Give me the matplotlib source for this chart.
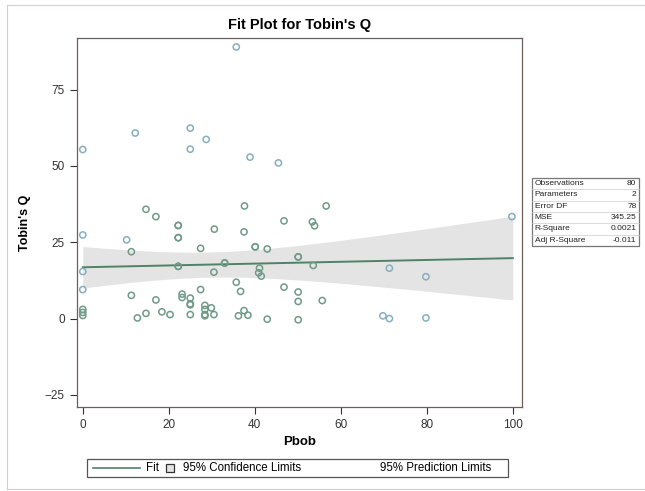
import numpy as np
import matplotlib
matplotlib.use('Agg')
import matplotlib.pyplot as plt
from matplotlib.patches import Rectangle
from matplotlib.lines import Line2D

plt.rcParams['font.family'] = ['Liberation Sans', 'DejaVu Sans']

# observations (green-grey markers)
pbob_a = [0, 0, 0, 11.3, 11.3, 14.7, 17.0, 17.0, 12.7, 14.7, 18.4, 20.3,
          22.2, 22.2, 22.2, 22.2, 22.2, 22.2, 23.1, 23.1, 25.0, 25.0, 25.0, 25.0,
          27.4, 27.4, 28.4, 28.4, 28.4, 28.4, 29.9, 30.5, 30.6, 30.5, 33.0, 33.0,
          35.7, 36.7, 36.2, 37.5, 38.4, 37.6, 37.5, 40.1, 40.1, 42.9, 41.1, 40.9,
          41.5, 42.9, 46.8, 46.8, 50.1, 50.1, 50.1, 50.1, 50.1, 53.4, 53.9, 53.6,
          55.7, 56.6]
q_a = [1.0, 2.0, 3.0, 21.9, 7.6, 35.8, 33.4, 6.1, 0.2, 1.7, 2.2, 1.3,
       30.5, 30.5, 26.5, 26.5, 17.1, 17.1, 8.0, 6.9, 6.7, 4.8, 4.5, 1.3,
       23.0, 9.5, 4.3, 3.0, 1.3, 0.9, 3.5, 1.3, 29.3, 15.2, 18.2, 18.2,
       11.9, 8.9, 0.9, 2.6, 1.1, 36.9, 28.4, 23.5, 23.5, 22.8, 16.5, 15.0,
       13.9, -0.2, 32.0, 10.3, 20.2, 20.2, 8.7, 5.6, -0.4, 31.7, 30.4, 17.4,
       5.9, 36.9]

# observations drawn in the lighter blue tone
pbob_b = [0, 12.2, 25.0, 25.0, 28.7, 35.7, 38.9, 45.5, 0, 10.2, 0, 0,
          69.8, 71.3, 71.3, 79.8, 79.8, 99.8]
q_b = [55.4, 60.8, 62.4, 55.5, 58.7, 89.0, 52.9, 51.0, 27.4, 25.8, 15.4, 9.5,
       0.9, 0.0, 16.5, 13.7, 0.2, 33.4]

# fitted line, MSE from the stats table
fit_intercept = 16.8
fit_slope = 0.03
fit_mse = 345.25
fit_xmean = 29.2
fit_sxx = 40000.0
n_obs = 80
t_crit = 1.9908

stat_labels = ['Observations', 'Parameters', 'Error DF', 'MSE', 'R-Square', 'Adj R-Square']
stat_values = ['80', '2', '78', '345.25', '0.0021', '-0.011']

xs = np.linspace(0, 100, 200)
fit = fit_intercept + fit_slope * xs
half = t_crit * np.sqrt(fit_mse * (1 / n_obs + (xs - fit_xmean) ** 2 / fit_sxx))

fig = plt.figure(figsize=(6.45, 4.91), dpi=100)
ax = fig.add_axes([0.119, 0.171, 0.690, 0.752])

ax.fill_between(xs, fit - half, fit + half, color='#e4e4e4', lw=0, zorder=1)
ax.plot(xs, fit, color='#4f8268', lw=1.4, zorder=3)
ax.scatter(pbob_a, q_a, s=20, facecolors='none', edgecolors='#6f9a86', linewidths=1.1, zorder=4)
ax.scatter(pbob_b, q_b, s=20, facecolors='none', edgecolors='#86aec0', linewidths=1.1, zorder=4)

ax.set_xlim(-1.4, 102.1)
ax.set_ylim(-29, 92)
ax.set_xticks([0, 20, 40, 60, 80, 100])
ax.set_yticks([-25, 0, 25, 50, 75])
ax.tick_params(labelsize=8.5, colors='#333333', length=5, width=0.8)
for s in ax.spines.values():
    s.set_color('#6e5e5a')
    s.set_linewidth(0.9)

ax.set_title("Fit Plot for Tobin's Q", fontsize=10.5, fontweight='bold', pad=6)
ax.set_xlabel('Pbob', fontsize=9.5, fontweight='bold', labelpad=4)
ax.set_ylabel("Tobin's Q", fontsize=9, fontweight='bold', labelpad=10)

# statistics box on the right
bx0, bx1 = 532 / 645, 639 / 645
by_top, by_bot = 1 - 178 / 491, 1 - 246 / 491
fig.patches.append(Rectangle((bx0, by_bot), bx1 - bx0, by_top - by_bot, transform=fig.transFigure,
                             fill=False, ec='#777777', lw=0.9))
row_h = (by_top - by_bot) / len(stat_labels)
for i, (lab, val) in enumerate(zip(stat_labels, stat_values)):
    yc = by_top - (i + 0.5) * row_h
    fig.text(bx0 + 0.004, yc, lab, fontsize=6.0, va='center', ha='left', color='#222222')
    fig.text(bx1 - 0.004, yc, val, fontsize=6.0, va='center', ha='right', color='#222222')
    if i > 0:
        fig.add_artist(Line2D([bx0, bx1], [yc + row_h / 2] * 2, transform=fig.transFigure,
                              color='#cccccc', lw=0.5))

# legend strip at the bottom
lx0, lx1 = 87 / 645, 508 / 645
ly0, ly1 = 1 - 477 / 491, 1 - 459 / 491
ly = (ly0 + ly1) / 2
fig.patches.append(Rectangle((lx0, ly0), lx1 - lx0, ly1 - ly0, transform=fig.transFigure,
                             fill=False, ec='#555555', lw=0.9))
fig.add_artist(Line2D([93 / 645, 140 / 645], [ly, ly], transform=fig.transFigure,
                      color='#4f8268', lw=1.2))
fig.text(146 / 645, ly, 'Fit', fontsize=8.3, va='center', ha='left')
fig.patches.append(Rectangle((166 / 645, ly - 0.009), 0.012, 0.018, transform=fig.transFigure,
                             fc='#e4e4e4', ec='#333333', lw=0.9))
fig.text(183 / 645, ly, '95% Confidence Limits', fontsize=8.3, va='center', ha='left')
fig.text(380 / 645, ly, '95% Prediction Limits', fontsize=8.3, va='center', ha='left')

# faint outer frame of the graph
for xs_, ys_ in [([7 / 645, 7 / 645], [1 - 489 / 491, 1 - 5 / 491]),
                 ([7 / 645, 1], [1 - 5 / 491, 1 - 5 / 491]),
                 ([7 / 645, 1], [1 - 489 / 491, 1 - 489 / 491])]:
    fig.add_artist(Line2D(xs_, ys_, transform=fig.transFigure, color='#d8cccc', lw=0.8))

fig.savefig('out.png', dpi=100)
